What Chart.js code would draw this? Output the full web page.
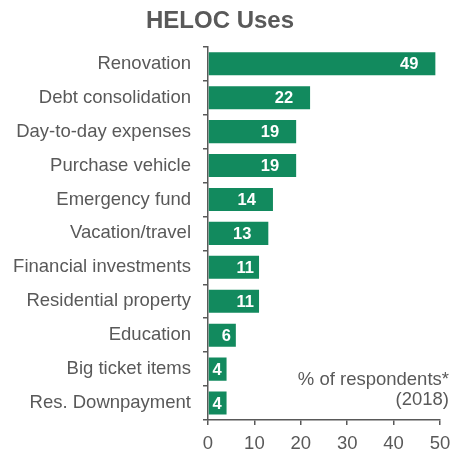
<!DOCTYPE html>
<html lang="en">
<head>
    <meta charset="UTF-8">
    <title>HELOC Uses</title>
    <script src="https://cdn.jsdelivr.net/npm/chart.js"></script>
    <style>
        html, body {
            margin: 0;
            padding: 0;
            background: #ffffff;
            overflow: hidden;
        }
        canvas {
            display: block;
        }
    </style>
</head>
<body>

    <canvas id="usesChart" width="451" height="458"></canvas>

    <script>
        const categories = [
            'Renovation',
            'Debt consolidation',
            'Day-to-day expenses',
            'Purchase vehicle',
            'Emergency fund',
            'Vacation/travel',
            'Financial investments',
            'Residential property',
            'Education',
            'Big ticket items',
            'Res. Downpayment'
        ];
        const shares = [49, 22, 19, 19, 14, 13, 11, 11, 6, 4, 4];
        const xTicks = [0, 10, 20, 30, 40, 50];
        const noteLines = ['% of respondents*', '(2018)'];

        const green = '#128a5e';
        const grey = '#595959';
        const fontFamily = "'Liberation Sans', Arial, sans-serif";

        // white value inside the end of each bar
        const valueLabels = {
            id: 'valueLabels',
            afterDatasetsDraw(chart) {
                const ctx = chart.ctx;
                const meta = chart.getDatasetMeta(0);
                ctx.save();
                ctx.font = 'bold 16.5px ' + fontFamily;
                ctx.fillStyle = '#ffffff';
                ctx.textAlign = 'right';
                ctx.textBaseline = 'middle';
                meta.data.forEach((bar, i) => {
                    const text = String(shares[i]);
                    const w = ctx.measureText(text).width;
                    const len = bar.x - bar.base;
                    const pad = len > w + 34 ? 17 : 5;
                    ctx.fillText(text, bar.x - pad, bar.y + 1);
                });
                ctx.restore();
            }
        };

        // footnote in the lower right corner
        const note = {
            id: 'note',
            afterDraw(chart) {
                const ctx = chart.ctx;
                const area = chart.chartArea;
                ctx.save();
                ctx.font = '18.5px ' + fontFamily;
                ctx.fillStyle = grey;
                ctx.textAlign = 'right';
                ctx.textBaseline = 'alphabetic';
                ctx.fillText(noteLines[0], area.right + 9, area.bottom - 35);
                ctx.fillText(noteLines[1], area.right + 9, area.bottom - 15);
                ctx.restore();
            }
        };

        const ctx = document.getElementById('usesChart').getContext('2d');

        new Chart(ctx, {
            type: 'bar',
            data: {
                labels: categories,
                datasets: [{
                    data: shares,
                    backgroundColor: green,
                    borderWidth: 0,
                    categoryPercentage: 1,
                    barPercentage: 0.68
                }]
            },
            options: {
                indexAxis: 'y',
                responsive: false,
                animation: false,
                devicePixelRatio: 1,
                layout: {
                    padding: { left: 0, right: 11, top: 0, bottom: 0 }
                },
                plugins: {
                    legend: { display: false },
                    tooltip: { enabled: false },
                    title: {
                        display: true,
                        text: 'HELOC Uses',
                        color: grey,
                        font: { family: fontFamily, size: 24, weight: 'bold' },
                        padding: { top: 7, bottom: 11 }
                    }
                },
                scales: {
                    x: {
                        min: 0,
                        max: 50,
                        afterBuildTicks(scale) {
                            scale.ticks = xTicks.map(v => ({ value: v }));
                        },
                        afterFit(scale) {
                            scale.height = 38;
                            scale.paddingLeft = 0;
                            scale.paddingRight = 0;
                        },
                        border: { display: true, color: grey, width: 1.5 },
                        grid: {
                            drawOnChartArea: false,
                            drawTicks: true,
                            tickLength: 5,
                            color: grey,
                            lineWidth: 1.5
                        },
                        ticks: {
                            color: grey,
                            padding: 8,
                            autoSkip: false,
                            maxRotation: 0,
                            font: { family: fontFamily, size: 18.5 }
                        }
                    },
                    y: {
                        afterFit(scale) {
                            scale.width = 208;
                        },
                        border: { display: true, color: grey, width: 1.5 },
                        grid: {
                            offset: true,
                            drawOnChartArea: false,
                            drawTicks: true,
                            tickLength: 5,
                            color: grey,
                            lineWidth: 1.5
                        },
                        ticks: {
                            color: grey,
                            padding: 12,
                            autoSkip: false,
                            font: { family: fontFamily, size: 18.5 }
                        }
                    }
                }
            },
            plugins: [valueLabels, note]
        });
    </script>

</body>
</html>
